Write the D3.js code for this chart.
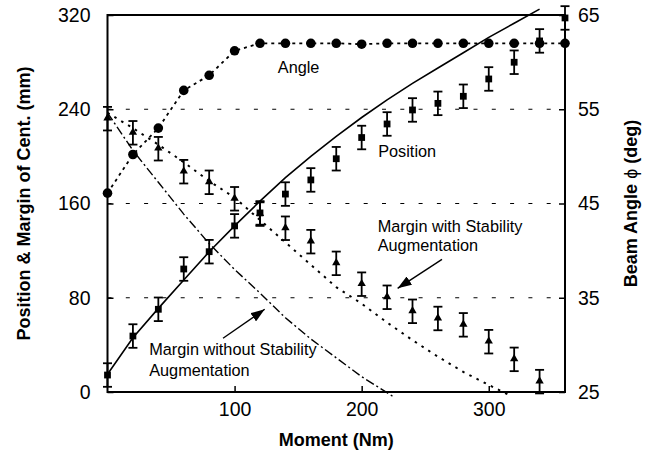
<!DOCTYPE html>
<html>
<head>
<meta charset="utf-8">
<script src="https://cdn.jsdelivr.net/npm/d3@7"></script>
<style>
  body { margin: 0; background: #fff; }
  text { font-family: Arial, 'Liberation Sans', sans-serif; fill: #000; }
</style>
</head>
<body>
<svg id="chart" width="653" height="455"></svg>
<script>
/* global d3 */

// measured points (Nm)
const moments = [0, 20, 40, 60, 80, 100, 120, 140, 160, 180, 200, 220, 240, 260, 280, 300, 320, 340, 360];
const position = [14.4, 47.5, 70.2, 104.4, 119.1, 141, 152, 168, 180, 198, 216, 227.5, 239.4, 245, 251, 265.7, 279.9, 298, 317.5];
const positionErr = [10, 10, 10, 10, 10, 10, 10, 10, 10, 10, 10, 10, 10, 10, 10, 10, 10, 10, 10];
const marginMoments = [0, 20, 40, 60, 80, 100, 120, 140, 160, 180, 200, 220, 240, 260, 280, 300, 320, 340];
const marginAug = [232, 220, 206.5, 187, 178, 164, 151, 139, 127.6, 109.2, 91.5, 80.4, 68.5, 62.4, 57, 42.7, 27.7, 8.8];
const marginAugErr = [10, 10, 10, 10, 10, 10, 10, 10, 10, 10, 10, 10, 10, 10, 10, 10, 10, 10];
const angle = [46.1, 50.2, 53.0, 57.0, 58.6, 61.2, 62.0, 62.0, 62.0, 62.0, 61.9, 62.0, 62.0, 62.0, 62.0, 62.0, 62.0, 62.0, 62.0];

// model curves
const positionModelX = [0, 20, 40, 60, 80, 100, 120, 140, 160, 180, 200, 220, 240, 260, 280, 300, 320, 340];
const positionModel = [15, 46, 71, 95, 119, 141, 162, 182, 200, 217, 233, 248, 262, 275, 288, 301, 313, 325];
const marginAugModelX = [0, 20, 40, 60, 80, 100, 120, 140, 160, 180, 200, 220, 240, 260, 280, 300, 315];
const marginAugModel = [237, 224, 210, 195, 179, 165, 146, 127, 108, 89, 75, 59, 44, 30, 17, 6, -2];
const marginModelX = [0, 20, 40, 60, 80, 100, 120, 140, 160, 180, 200, 225];
const marginModel = [237, 205, 178, 151, 126, 104, 84, 63, 45, 29, 13, -4];

// axes
const xTicks = [100, 200, 300];
const yTicks = [0, 80, 160, 240, 320];
const angleTicks = [25, 35, 45, 55, 65];
const gridTicks = [80, 160, 240];

// annotations, in data units [moment, mm]
const notes = [
  { text: 'Angle', at: [134, 271] },
  { text: 'Position', at: [213, 199.7] },
  { text: 'Margin with Stability', at: [212.6, 136] },
  { text: 'Augmentation', at: [212.6, 119.3] },
  { text: 'Margin without Stability', at: [32.8, 31.4] },
  { text: 'Augmentation', at: [32.8, 13.6] },
];
const arrows = [
  { from: [263.2, 112.6], to: [228.3, 88] },
  { from: [90.9, 45.6], to: [123.7, 70.2] },
];

const svg = d3.select('#chart');
const x = d3.scaleLinear().domain([0, 360]).range([107.5, 565]);
const y = d3.scaleLinear().domain([0, 320]).range([392, 15]);
const yAngle = d3.scaleLinear().domain([25, 65]).range([392, 15]);

svg.append('defs').append('marker')
  .attr('id', 'head')
  .attr('markerUnits', 'userSpaceOnUse')
  .attr('viewBox', '0 0 14 10')
  .attr('refX', 14)
  .attr('refY', 5)
  .attr('markerWidth', 14)
  .attr('markerHeight', 10)
  .attr('orient', 'auto')
  .append('path')
  .attr('d', 'M0,0L14,5L0,10Z')
  .attr('fill', '#000');

// grid
svg.append('g').selectAll('line').data(gridTicks).join('line')
  .attr('x1', x(0)).attr('x2', x(360))
  .attr('y1', d => y(d)).attr('y2', d => y(d))
  .attr('stroke', '#000')
  .attr('stroke-width', 1)
  .attr('stroke-dasharray', '4,14.3');

// curves
const curve = (xs, ys, scale) => d3.line()
  .x((d, i) => x(xs[i]))
  .y(d => scale(d))(ys);

svg.append('path')
  .attr('d', curve(positionModelX, positionModel, y))
  .attr('fill', 'none').attr('stroke', '#000').attr('stroke-width', 1.6);
svg.append('path')
  .attr('d', curve(marginAugModelX, marginAugModel, y))
  .attr('fill', 'none').attr('stroke', '#000').attr('stroke-width', 2)
  .attr('stroke-dasharray', '2.5,5.5');
svg.append('path')
  .attr('d', curve(marginModelX, marginModel, y))
  .attr('fill', 'none').attr('stroke', '#000').attr('stroke-width', 1.4)
  .attr('stroke-dasharray', '9,3,2,3');
svg.append('path')
  .attr('d', curve(moments, angle, yAngle))
  .attr('fill', 'none').attr('stroke', '#000').attr('stroke-width', 1.8)
  .attr('stroke-dasharray', '3,4');

// error bars
function errorBars(xs, vals, errs) {
  const g = svg.append('g').attr('stroke', '#000').attr('stroke-width', 1.8);
  vals.forEach((v, i) => {
    const cx = x(xs[i]);
    g.append('line').attr('x1', cx).attr('x2', cx)
      .attr('y1', y(v - errs[i])).attr('y2', y(v + errs[i]));
    [v - errs[i], v + errs[i]].forEach(e => {
      g.append('line').attr('x1', cx - 4.5).attr('x2', cx + 4.5)
        .attr('y1', y(e)).attr('y2', y(e));
    });
  });
}
errorBars(moments, position, positionErr);
errorBars(marginMoments, marginAug, marginAugErr);

// markers
svg.append('g').selectAll('path').data(position).join('path')
  .attr('d', d3.symbol(d3.symbolSquare, 46))
  .attr('transform', (d, i) => `translate(${x(moments[i])},${y(d)})`)
  .attr('fill', '#000');
svg.append('g').selectAll('path').data(marginAug).join('path')
  .attr('d', d3.symbol(d3.symbolTriangle, 30))
  .attr('transform', (d, i) => `translate(${x(marginMoments[i])},${y(d) - 0.5})`)
  .attr('fill', '#000');
svg.append('g').selectAll('circle').data(angle).join('circle')
  .attr('cx', (d, i) => x(moments[i]))
  .attr('cy', d => yAngle(d))
  .attr('r', 4.8)
  .attr('fill', '#000');

// frame and axes
svg.append('rect')
  .attr('x', x(0)).attr('y', y(320))
  .attr('width', x(360) - x(0)).attr('height', y(0) - y(320))
  .attr('fill', 'none').attr('stroke', '#000').attr('stroke-width', 2);

const styleAxis = (g, size) => {
  g.select('.domain').remove();
  g.selectAll('.tick line').attr('stroke-width', 1.5);
  g.selectAll('text').attr('font-size', size).attr('font-family', null);
};

svg.append('g')
  .attr('transform', `translate(${x(0)},0)`)
  .call(d3.axisLeft(y).tickValues(yTicks).tickSizeInner(-6).tickSizeOuter(0).tickPadding(17))
  .call(g => styleAxis(g, 19.5));
svg.append('g')
  .attr('transform', `translate(${x(360)},0)`)
  .call(d3.axisRight(yAngle).tickValues(angleTicks).tickSizeInner(-6).tickSizeOuter(0).tickPadding(13))
  .call(g => styleAxis(g, 19.5));
svg.append('g')
  .attr('transform', `translate(0,${y(0)})`)
  .call(d3.axisBottom(x).tickValues(xTicks).tickSizeInner(-6).tickSizeOuter(0).tickPadding(10.5))
  .call(g => styleAxis(g, 19.5));

// titles
svg.append('text')
  .attr('x', (x(0) + x(360)) / 2).attr('y', 446)
  .attr('text-anchor', 'middle')
  .attr('font-size', 18).attr('font-weight', 'bold')
  .text('Moment (Nm)');
svg.append('text')
  .attr('transform', `translate(30,${(y(0) + y(320)) / 2}) rotate(-90)`)
  .attr('text-anchor', 'middle')
  .attr('font-size', 18).attr('font-weight', 'bold')
  .text('Position & Margin of Cent. (mm)');
const right = svg.append('text')
  .attr('transform', `translate(637,${(y(0) + y(320)) / 2}) rotate(-90)`)
  .attr('text-anchor', 'middle')
  .attr('font-size', 18).attr('font-weight', 'bold');
right.append('tspan').text('Beam Angle ');
right.append('tspan').attr('font-weight', 'normal').text('\u03d5');
right.append('tspan').text(' (deg)');

// annotations
svg.append('g').selectAll('text').data(notes).join('text')
  .attr('x', d => x(d.at[0]))
  .attr('y', d => y(d.at[1]))
  .attr('font-size', 16.3)
  .text(d => d.text);
svg.append('g').selectAll('line').data(arrows).join('line')
  .attr('x1', d => x(d.from[0])).attr('y1', d => y(d.from[1]))
  .attr('x2', d => x(d.to[0])).attr('y2', d => y(d.to[1]))
  .attr('stroke', '#000').attr('stroke-width', 1.4)
  .attr('marker-end', 'url(#head)');
</script>
</body>
</html>
